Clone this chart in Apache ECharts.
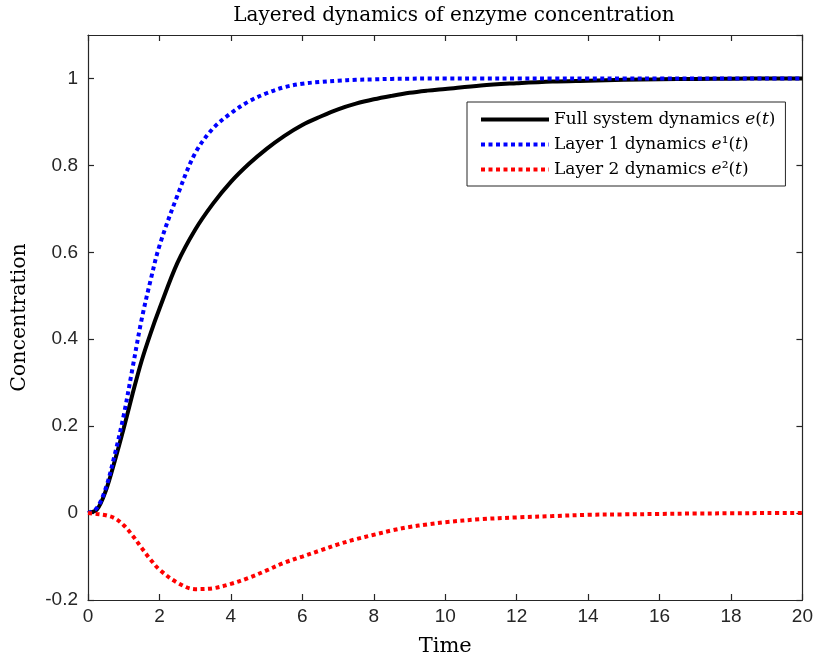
<!DOCTYPE html>
<html>
<head>
<meta charset="utf-8">
<script src="https://cdn.jsdelivr.net/npm/echarts@6/dist/echarts.min.js"></script>
<style>
  html, body { margin: 0; padding: 0; background: #fff; }
  #chart { width: 816px; height: 666px; }
</style>
</head>
<body>
<div id="chart"></div>
<script>
// Sample times
const times = [0, 0.25, 0.5, 0.75, 1, 1.25, 1.5, 1.75, 2, 2.5, 3, 3.5, 4, 4.5, 5, 5.5, 6,
               6.5, 7, 7.5, 8, 8.5, 9, 9.5, 10, 11, 12, 13, 14, 15, 16, 17, 18, 19, 20];
// Full system e(t)
const fullSystem = [0, 0.008, 0.052, 0.12, 0.195, 0.275, 0.35, 0.413, 0.47, 0.575, 0.652, 0.712,
                    0.762, 0.803, 0.838, 0.868, 0.893, 0.912, 0.929, 0.942, 0.952, 0.960, 0.967,
                    0.972, 0.976, 0.984, 0.989, 0.993, 0.995, 0.997, 0.998, 0.999, 0.9995, 1.0, 1.0];
// Layer 1 e^1(t)
const layer1 = [0, 0.012, 0.058, 0.135, 0.225, 0.335, 0.445, 0.535, 0.615, 0.73, 0.828, 0.885,
                0.92, 0.947, 0.966, 0.98, 0.988, 0.992, 0.995, 0.997, 0.998, 0.999, 0.9995,
                1.0, 1.0, 1.0, 1.0, 1.0, 1.0, 1.0, 1.0, 1.0, 1.0, 1.0, 1.0];
// Layer 2 e^2(t)
const layer2 = [0, -0.002, -0.005, -0.012, -0.028, -0.052, -0.08, -0.107, -0.13, -0.16, -0.175,
                -0.173, -0.163, -0.149, -0.132, -0.114, -0.1, -0.086, -0.072, -0.06, -0.05,
                -0.04, -0.032, -0.026, -0.021, -0.014, -0.01, -0.007, -0.004, -0.003, -0.002,
                -0.001, -0.0005, 0, 0];

const seriesNames = ['Full system dynamics', 'Layer 1 dynamics', 'Layer 2 dynamics'];
// Math part of each legend entry: e(t), e^1(t), e^2(t)
const legendSup = {
  'Full system dynamics': '',
  'Layer 1 dynamics': '¹',
  'Layer 2 dynamics': '²'
};

const pairs = arr => times.map((t, i) => [t, arr[i]]);

const axisColor = '#262626';
const serif = '"DejaVu Serif", "Liberation Serif", serif';
const sans = '"Liberation Sans", Arial, sans-serif';

const chart = echarts.init(document.getElementById('chart'), null, { renderer: 'canvas' });

const baseAxis = {
  axisLine: { show: true, onZero: false, lineStyle: { color: axisColor, width: 1.2 } },
  axisTick: { show: true, inside: true, length: 6, lineStyle: { color: axisColor, width: 1.2 } },
  splitLine: { show: false }
};

chart.setOption({
  animation: false,
  backgroundColor: '#fff',
  title: {
    text: 'Layered dynamics of enzyme concentration',
    left: 449, top: 1, textAlign: 'center',
    textStyle: { fontFamily: serif, fontSize: 20, fontWeight: 'normal', color: '#000' }
  },
  grid: { left: 88, right: 11, top: 35, bottom: 66, containLabel: false },
  legend: {
    orient: 'vertical',
    left: 467, top: 102,
    padding: [9, 10, 8, 12],
    itemGap: 8,
    itemWidth: 68,
    itemHeight: 18,
    backgroundColor: '#fff',
    borderColor: axisColor,
    borderWidth: 1,
    borderRadius: 0,
    itemStyle: { opacity: 0 },
    lineStyle: { width: 4 },
    data: seriesNames,
    formatter: name => name + ' {m|e}' + legendSup[name] + '({m|t})',
    textStyle: {
      fontFamily: serif, fontSize: 17, color: '#000',
      rich: { m: { fontFamily: serif, fontStyle: 'italic', fontSize: 17, color: '#000' } }
    }
  },
  xAxis: [
    Object.assign({}, baseAxis, {
      type: 'value', min: 0, max: 20, interval: 2, position: 'bottom',
      name: 'Time', nameLocation: 'middle', nameGap: 36,
      nameTextStyle: { fontFamily: serif, fontSize: 21, color: '#000' },
      axisLabel: { fontFamily: sans, fontSize: 19, color: axisColor, margin: 7 }
    }),
    Object.assign({}, baseAxis, {
      type: 'value', min: 0, max: 20, interval: 2, position: 'top',
      axisLabel: { show: false }
    })
  ],
  yAxis: [
    Object.assign({}, baseAxis, {
      type: 'value', min: -0.2, max: 1.1, interval: 0.2, position: 'left',
      name: 'Concentration', nameLocation: 'middle', nameGap: 58, nameRotate: 90,
      nameTextStyle: { fontFamily: serif, fontSize: 20.5, color: '#000' },
      axisLabel: { fontFamily: sans, fontSize: 19, color: axisColor, margin: 10, showMaxLabel: false }
    }),
    Object.assign({}, baseAxis, {
      type: 'value', min: -0.2, max: 1.1, interval: 0.2, position: 'right',
      axisLabel: { show: false }
    })
  ],
  series: [
    {
      name: seriesNames[0], type: 'line', data: pairs(fullSystem),
      smooth: 0.35, symbol: 'none', color: '#000',
      lineStyle: { color: '#000', width: 4 }
    },
    {
      name: seriesNames[1], type: 'line', data: pairs(layer1),
      smooth: 0.35, symbol: 'none', color: '#0000ff',
      lineStyle: { color: '#0000ff', width: 4, type: [4, 3.5], cap: 'butt' }
    },
    {
      name: seriesNames[2], type: 'line', data: pairs(layer2),
      smooth: 0.35, symbol: 'none', color: '#ff0000',
      lineStyle: { color: '#ff0000', width: 4, type: [4, 3.5], cap: 'butt' }
    }
  ]
});
</script>
</body>
</html>
